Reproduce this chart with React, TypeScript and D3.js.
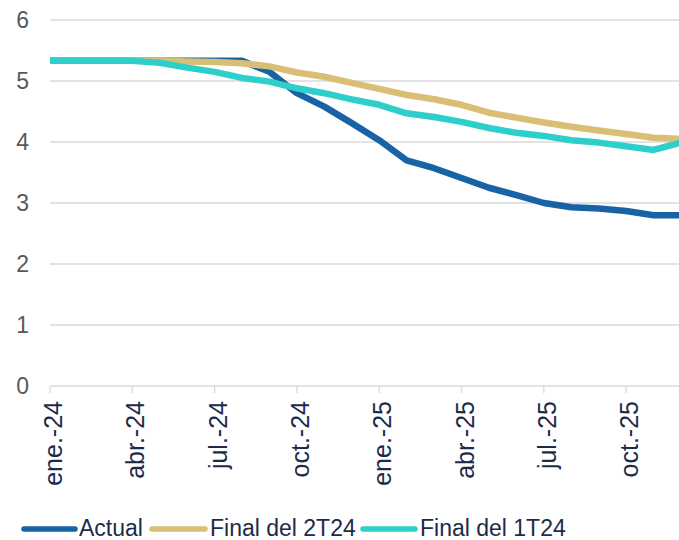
import React from "react";
import * as d3 from "d3";

const months = [
  "ene.-24","feb.-24","mar.-24","abr.-24","may.-24","jun.-24","jul.-24","ago.-24","sep.-24","oct.-24","nov.-24","dic.-24",
  "ene.-25","feb.-25","mar.-25","abr.-25","may.-25","jun.-25","jul.-25","ago.-25","sep.-25","oct.-25","nov.-25","dic.-25",
];
const tickLabels = ["ene.-24","abr.-24","jul.-24","oct.-24","ene.-25","abr.-25","jul.-25","oct.-25"];
const yTicks = [0, 1, 2, 3, 4, 5, 6];

const actual = [5.33,5.33,5.33,5.33,5.33,5.33,5.33,5.33,5.15,4.80,4.58,4.31,4.03,3.70,3.57,3.41,3.25,3.13,3.00,2.93,2.91,2.87,2.80,2.80];
const final2T24 = [5.33,5.33,5.33,5.33,5.33,5.32,5.31,5.29,5.24,5.14,5.07,4.97,4.87,4.77,4.70,4.61,4.48,4.40,4.32,4.25,4.19,4.13,4.07,4.05];
const final1T24 = [5.33,5.33,5.33,5.33,5.30,5.22,5.15,5.05,4.99,4.88,4.80,4.70,4.61,4.47,4.41,4.33,4.23,4.15,4.10,4.03,3.99,3.93,3.87,3.99];

const seriesNames = ["Actual", "Final del 2T24", "Final del 1T24"];
const seriesColors = ["#1862a6", "#d9be76", "#2ecfcb"];
const seriesData = [actual, final2T24, final1T24];

const W = 679, H = 540;
const FONT = "'Liberation Sans', Arial, sans-serif";

export default function App() {
  const x = d3.scalePoint<string>().domain(months).range([50, 681]);
  const y = d3.scaleLinear().domain([0, 6]).range([386, 20]);
  const line = d3.line<number>()
    .x((_, i) => x(months[i]) as number)
    .y((d) => y(d));

  const drawOrder = [0, 1, 2];
  const legendPos = [
    { x1: 24, x2: 75, tx: 79 },
    { x1: 152, x2: 205, tx: 210 },
    { x1: 363, x2: 415, tx: 420 },
  ];

  return (
    <svg width={W} height={H} style={{ position: "absolute", left: 0, top: 0, background: "#fff" }}>
      <rect width={W} height={H} fill="#fff" />
      {yTicks.map((t) => (
        <g key={t}>
          <line x1={50} x2={W} y1={y(t)} y2={y(t)} stroke="#d9d9d9" strokeWidth={1.3} />
          <text x={29} y={y(t)} dy="0.36em" textAnchor="end" fontFamily={FONT} fontSize={23} fill="#595959">
            {t}
          </text>
        </g>
      ))}
      {tickLabels.map((m) => {
        const tx = x(m) as number;
        return (
          <g key={m}>
            <line x1={tx} x2={tx} y1={386} y2={393} stroke="#d9d9d9" strokeWidth={1.3} />
            <text
              transform={`translate(${tx + 12},${401}) rotate(-90)`}
              textAnchor="end"
              fontFamily={FONT}
              fontSize={25}
              fill="#1d2b4b"
            >
              {m}
            </text>
          </g>
        );
      })}
      {drawOrder.map((si) => (
        <path
          key={si}
          d={line(seriesData[si]) || ""}
          fill="none"
          stroke={seriesColors[si]}
          strokeWidth={6.5}
          strokeLinejoin="round"
        />
      ))}
      {seriesNames.map((n, i) => (
        <g key={n}>
          <line
            x1={legendPos[i].x1}
            x2={legendPos[i].x2}
            y1={529}
            y2={529}
            stroke={seriesColors[i]}
            strokeWidth={5.5}
            strokeLinecap="round"
          />
          <text x={legendPos[i].tx} y={536} fontFamily={FONT} fontSize={23} fill="#1d2b4b">
            {n}
          </text>
        </g>
      ))}
    </svg>
  );
}
